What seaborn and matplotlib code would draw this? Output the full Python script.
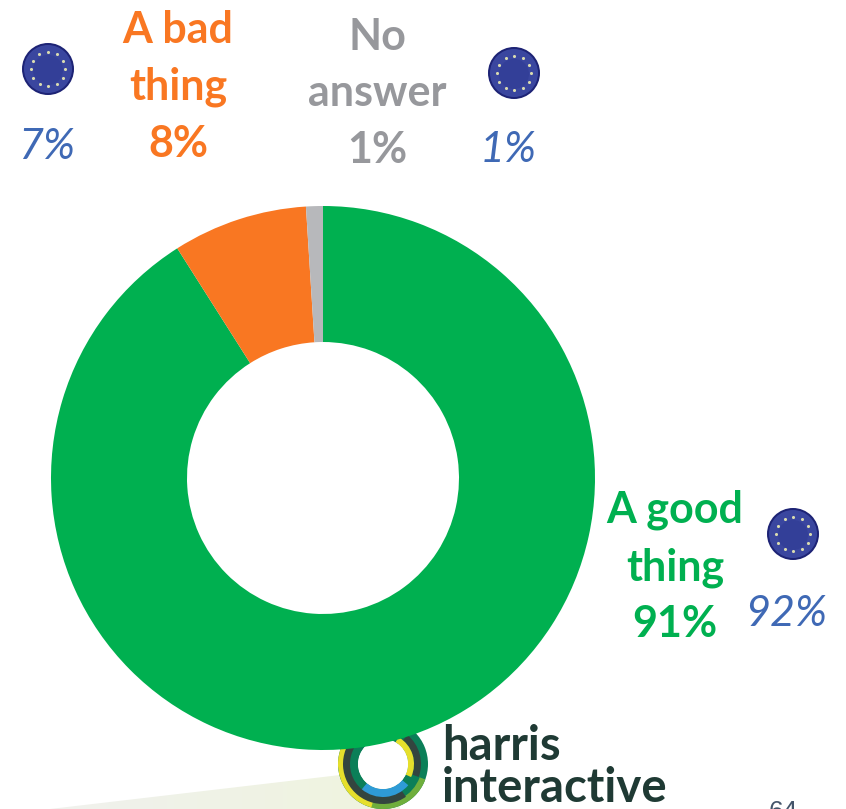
import numpy as np
import seaborn as sns
import matplotlib.pyplot as plt
from matplotlib.patches import Circle, Wedge, Polygon

# answers, clockwise from the top of the ring
answers = ['A good thing', 'A bad thing', 'No answer']
shares = [91, 8, 1]
eu_shares = ['92%', '7%', '1%']
ring_labels = ['A good\nthing\n91%', 'A bad\nthing\n8%', 'No\nanswer\n1%']

colors = ['#00B050', '#F97722', '#B7B8BB']
label_colors = ['#00B050', '#F97722', '#97989C']
eu_blue = '#3F69B5'

sns.set_theme(style='white')
plt.rcParams['font.family'] = ['Lato', 'DejaVu Sans']

fig = plt.figure(figsize=(8.46, 8.09), dpi=100)
ax = fig.add_axes([0, 0, 1, 1])

# faint green band at the bottom of the slide
band = Polygon([(50, 809), (400, 768), (400, 809)], fc='none', ec='none')
ax.add_patch(band)
grad = np.linspace(0, 1, 200).reshape(1, -1)
img = ax.imshow(grad, extent=(50, 400, 809, 760), cmap=sns.light_palette('#EFF4DE', as_cmap=True),
                aspect='auto', zorder=0)
img.set_clip_path(band)


# logo ring, partly behind the donut
def logo():
    c = (383, 764)
    rings = [
        (45, 0, 360, 20, '#0B7F58'),
        (45, 100, 265, 10, '#E6DF2C'),
        (45, 20, 105, 6, '#6FAE3C'),
        (40, 55, 250, 9, '#33453F'),
        (38, 310, 380, 7, '#33453F'),
        (33, 130, 260, 8, '#0B7F58'),
        (33, 40, 130, 8, '#2E9BD6'),
        (31, 300, 385, 6, '#E6DF2C'),
    ]
    for r, a, b, w, col in rings:
        ax.add_patch(Wedge(c, r, a, b, width=w, fc=col, ec='none', zorder=1))
    ax.add_patch(Circle(c, 25, fc='white', ec='none', zorder=2))
    ax.text(442, 760, 'harris', fontsize=34, fontweight='bold', color='#1F3A34',
            ha='left', va='baseline', zorder=4)
    ax.text(442, 802, 'interactive', fontsize=34, fontweight='bold', color='#1F3A34',
            ha='left', va='baseline', zorder=4)


logo()

# donut, y axis is flipped so 270 is the top and angles run clockwise
ax.pie(shares, colors=colors, startangle=270, counterclock=True, center=(323, 478),
       radius=272, frame=True, wedgeprops={'width': 136, 'linewidth': 0, 'zorder': 5})
ax.set_xlim(0, 846)
ax.set_ylim(809, 0)
ax.set_aspect('auto')
ax.axis('off')

# labels
label_x = [675, 178, 377]
label_y = [567, 87, 93]
for lab, col, x, y in zip(ring_labels, label_colors, label_x, label_y):
    ax.text(x, y, lab, color=col, fontsize=31, fontweight='bold', ha='center', va='center',
            linespacing=1.5, zorder=6)

eu_x = [786, 47, 508]
eu_y = [614, 147, 150]
for val, x, y in zip(eu_shares, eu_x, eu_y):
    ax.text(x, y, val, color=eu_blue, fontsize=31, fontstyle='italic', ha='center', va='center', zorder=6)


# little EU flag badges
def flag(x, y, r=25):
    ax.add_patch(Circle((x, y), r + 1, fc='#1D2375', ec='none', zorder=6))
    ax.add_patch(Circle((x, y), r - 1, fc='#3A469F', ec='none', zorder=6))
    ax.add_patch(Circle((x, y + 1), r * 0.6, fc='#333F98', ec='none', zorder=6))
    t = np.deg2rad(np.arange(0, 360, 30))
    ax.scatter(x + 0.68 * r * np.cos(t), y + 0.68 * r * np.sin(t), s=5, marker='o', c='#D9DBB0',
               linewidths=0, zorder=7)


flag(48, 69)
flag(514, 73)
flag(793, 534)

ax.text(783, 812, '64', color='#44546A', fontsize=19, family='Liberation Sans', ha='center',
        va='center', zorder=6)

fig.savefig('out.png', dpi=100)
